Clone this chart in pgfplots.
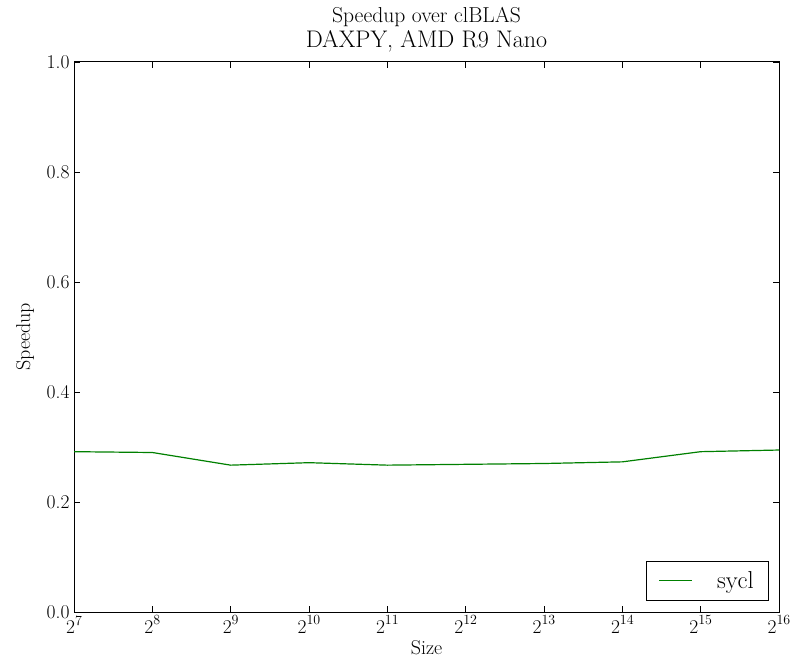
\RequirePackage{fix-cm}
\documentclass[border=0pt]{standalone}
\usepackage{pgfplots}
\pgfplotsset{compat=1.18}
\usetikzlibrary{calc}
\definecolor{mplgreen}{rgb}{0,0.5,0}
\newcommand{\tp}[1]{2\raisebox{0.42em}{\fontsize{14}{16}\selectfont #1}}
\begin{document}
\begin{tikzpicture}
\begin{axis}[
  name=ax,
  scale only axis,
  width=705pt, height=550pt,
  xmode=log, log basis x=2,
  xmin=128, xmax=65536,
  ymin=0, ymax=1,
  xtick={128,256,512,1024,2048,4096,8192,16384,32768,65536},
  xticklabels={\tp{7},\tp{8},\tp{9},\tp{10},\tp{11},\tp{12},\tp{13},\tp{14},\tp{15},\tp{16}},
  ytick={0,0.2,0.4,0.6,0.8,1.0},
  yticklabel style={/pgf/number format/fixed,/pgf/number format/fixed zerofill,/pgf/number format/precision=1, /pgf/number format/assume math mode=true, xshift=-1pt},
  tick align=inside,
  major tick length=6pt,
  minor tick num=0,
  xminorticks=false,
  tick style={black, line width=0.8pt},
  axis line style={line width=1pt},
  tick label style={font=\fontsize{19.5}{22}\selectfont},
  xlabel={Size}, ylabel={Speedup},
  label style={font=\fontsize{20}{23}\selectfont},
  xlabel style={at={(axis description cs:0.5,-0.0655)}, anchor=center},
  ylabel style={at={(axis description cs:-0.0695,0.5)}, anchor=center},
  title={DAXPY, AMD R9 Nano},
  title style={font=\fontsize{24}{28}\selectfont, at={(axis description cs:0.5,1.0273)}, anchor=center},
  legend style={at={(1,0)}, xshift=-11pt, yshift=12pt, anchor=south east, font=\fontsize{24.5}{28}\selectfont, inner xsep=12pt, inner ysep=8pt, cells={anchor=west}},
  legend cell align=left,
  legend image code/.code={\draw[#1, line width=1.5pt] (0pt,0pt) -- (33pt,0pt);},
]
\addplot[mplgreen, line width=1.2pt] coordinates {
  (128,0.2915) (256,0.290) (512,0.267) (1024,0.2715) (2048,0.267)
  (4096,0.2685) (8192,0.270) (16384,0.273) (32768,0.2915) (65536,0.2945)
};
\addlegendentry{\hspace{22pt}sycl}
\end{axis}
\node[font=\fontsize{21.6}{26}\selectfont, anchor=center] at ($(ax.north)+(0,45pt)$) {Speedup over clBLAS};
\pgfresetboundingbox
\path[use as bounding box] ($(ax.south west)+(-74pt,-47pt)$) rectangle ($(ax.north east)+(15pt,62pt)$);
\end{tikzpicture}
\end{document}
